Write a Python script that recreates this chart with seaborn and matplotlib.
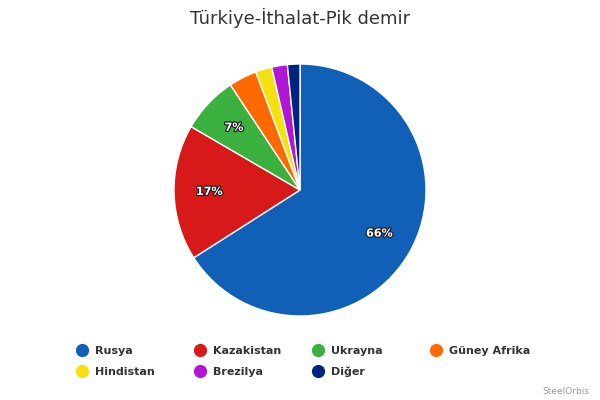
import matplotlib
matplotlib.use("Agg")
import matplotlib.pyplot as plt
import matplotlib.patheffects as pe
from matplotlib.lines import Line2D
import seaborn as sns

categories = ["Rusya", "Kazakistan", "Ukrayna", "Güney Afrika", "Hindistan", "Brezilya", "Diğer"]
values = [65.9, 17.4, 7.3, 3.6, 2.1, 2.0, 1.6]
colors_hex = ["#1060b8", "#d71919", "#3ab03e", "#ff6a00", "#f5e10e", "#b015d8", "#002480"]
title = "Türkiye-İthalat-Pik demir"
credit = "SteelOrbis"

sns.set_theme(style="white")
plt.rcParams['font.family'] = ['DejaVu Sans']
palette = sns.color_palette(colors_hex)

fig = plt.figure(figsize=(6, 4), dpi=100)
fig.patch.set_facecolor("white")
ax = fig.add_axes([0.29, 0.21, 0.42, 0.63])

def fmt(p):
    return f"{p:.0f}%" if p >= 5 else ""

wedges, texts, autotexts = ax.pie(
    values, colors=palette, startangle=90, counterclock=False,
    autopct=fmt, pctdistance=0.72,
    wedgeprops=dict(edgecolor="white", linewidth=1),
    textprops=dict(color="white", fontsize=8, fontweight="bold"),
)
for t in autotexts:
    t.set_path_effects([pe.withStroke(linewidth=1.8, foreground="#222222")])
ax.set_xlim(-1, 1)
ax.set_ylim(-1, 1)
ax.set_aspect("equal")
ax.axis("off")

fig.text(0.5, 1 - 18 / 400, title, ha="center", va="center", fontsize=13, color="#333333")

ncols = 4
col_x = [78, 196, 314, 432]
for j in range(ncols):
    idx = [i for i in range(len(categories)) if i % ncols == j]
    handles = [Line2D([0], [0], marker="o", linestyle="", markersize=8.5,
                      markerfacecolor=palette[i], markeredgecolor=palette[i]) for i in idx]
    labels = [categories[i] for i in idx]
    leg = fig.legend(handles, labels, loc="upper left",
                     bbox_to_anchor=(col_x[j] / 600, 1 - 346 / 400),
                     frameon=False, handlelength=0.8, handletextpad=0.75,
                     labelspacing=0.95, borderpad=0, borderaxespad=0,
                     prop=dict(size=8, weight="bold"))
    for t in leg.get_texts():
        t.set_color("#333333")

fig.text(589 / 600, 1 - 392 / 400, credit, ha="right", va="center", fontsize=6.5, color="#999999")

fig.savefig("out.png", dpi=100, facecolor="white")
